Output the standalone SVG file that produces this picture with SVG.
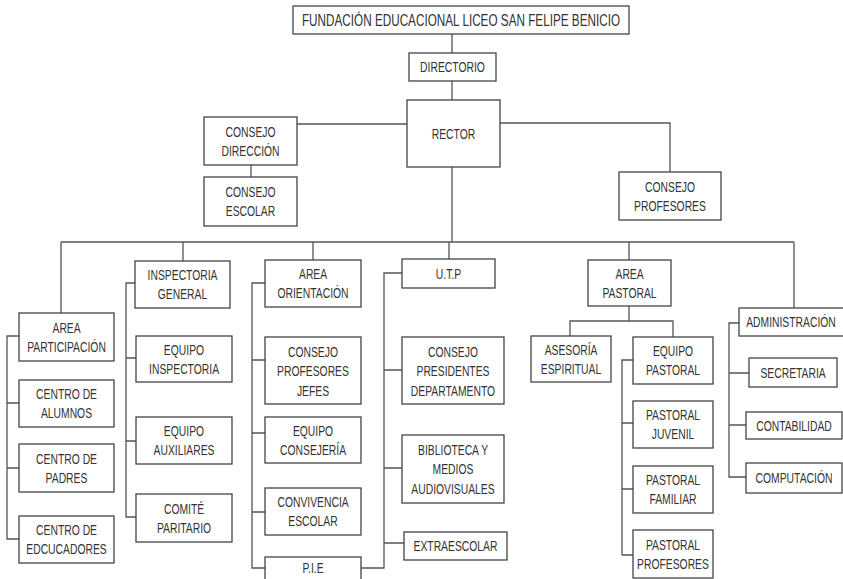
<svg xmlns="http://www.w3.org/2000/svg" width="843" height="579" viewBox="0 0 843 579">
<style>
rect{fill:#fff;stroke:#444;stroke-width:1.3}
text{font-family:"Liberation Sans",Arial,sans-serif;font-size:15px;fill:#333;text-anchor:middle;transform-box:fill-box;transform-origin:center;transform:scaleX(0.69)}
text.t{font-size:17px}
#connectors path{fill:none;stroke:#555;stroke-width:1.3}
</style>
<rect x="0" y="0" width="843" height="579" style="stroke:none;fill:#fff"/>
<g id="connectors">
<path d="M452,34V53M452,81V100"/>
<path d="M297,124H407M500,123H670V172"/>
<path d="M251,165V177"/>
<path d="M452,167V242M61,242H794"/>
<path d="M61,242V313M183,242V261M313,242V260M449,242V259M629,242V260M794,242V308"/>
<path d="M19,336H7V539H19M7,403H19M7,468H19"/>
<path d="M135,283H126V517H136M126,358H136M126,441H136"/>
<path d="M265,283H252V568H265M252,360H265M252,433H265M252,512H265"/>
<path d="M402,273H384V568H361M384,370H402M384,468H402M384,543H404"/>
<path d="M629,306V321M570,336V321H673V337"/>
<path d="M633,360H622V555H633M622,423H633M622,489H633"/>
<path d="M739,323H729V477H746M729,373H749M729,425H746"/>
</g>
<g id="fundacion"><rect x="293" y="6" width="336" height="28"/><text class="t" x="461" y="26">FUNDACIÓN EDUCACIONAL LICEO SAN FELIPE BENICIO</text></g>
<g id="directorio"><rect x="409" y="53" width="87" height="28"/><text x="452.5" y="72.5">DIRECTORIO</text></g>
<g id="rector"><rect x="407" y="100" width="93" height="67"/><text x="453.5" y="139">RECTOR</text></g>
<g id="consejo-direccion"><rect x="204" y="117" width="93" height="48"/><text x="250.5" y="137">CONSEJO</text><text x="250.5" y="156">DIRECCIÓN</text></g>
<g id="consejo-escolar"><rect x="204" y="177" width="93" height="49"/><text x="250.5" y="197.5">CONSEJO</text><text x="250.5" y="216.5">ESCOLAR</text></g>
<g id="consejo-profesores"><rect x="619" y="172" width="102" height="48"/><text x="670" y="192">CONSEJO</text><text x="670" y="211">PROFESORES</text></g>
<g id="area-participacion"><rect x="19" y="313" width="95" height="48"/><text x="66.5" y="333">AREA</text><text x="66.5" y="352">PARTICIPACIÓN</text></g>
<g id="centro-alumnos"><rect x="19" y="380" width="95" height="47"/><text x="66.5" y="399.5">CENTRO DE</text><text x="66.5" y="418.5">ALUMNOS</text></g>
<g id="centro-padres"><rect x="19" y="444" width="95" height="48"/><text x="66.5" y="464">CENTRO DE</text><text x="66.5" y="483">PADRES</text></g>
<g id="centro-educadores"><rect x="19" y="516" width="95" height="47"/><text x="66.5" y="535.5">CENTRO DE</text><text x="66.5" y="554.5">EDCUCADORES</text></g>
<g id="inspectoria-general"><rect x="135" y="261" width="95" height="47"/><text x="182.5" y="280.5">INSPECTORIA</text><text x="182.5" y="299.5">GENERAL</text></g>
<g id="equipo-inspectoria"><rect x="136" y="336" width="96" height="46"/><text x="184" y="355">EQUIPO</text><text x="184" y="374">INSPECTORIA</text></g>
<g id="equipo-auxiliares"><rect x="136" y="417" width="96" height="47"/><text x="184" y="436.5">EQUIPO</text><text x="184" y="455.5">AUXILIARES</text></g>
<g id="comite-paritario"><rect x="136" y="494" width="96" height="48"/><text x="184" y="514">COMITÉ</text><text x="184" y="533">PARITARIO</text></g>
<g id="area-orientacion"><rect x="265" y="260" width="96" height="47"/><text x="313" y="279.5">AREA</text><text x="313" y="298.5">ORIENTACIÓN</text></g>
<g id="consejo-profesores-jefes"><rect x="265" y="337" width="96" height="67"/><text x="313" y="357">CONSEJO</text><text x="313" y="376.5">PROFESORES</text><text x="313" y="396">JEFES</text></g>
<g id="equipo-consejeria"><rect x="265" y="417" width="96" height="46"/><text x="313" y="436">EQUIPO</text><text x="313" y="455">CONSEJERÍA</text></g>
<g id="convivencia-escolar"><rect x="265" y="488" width="96" height="47"/><text x="313" y="507.5">CONVIVENCIA</text><text x="313" y="526.5">ESCOLAR</text></g>
<g id="pie"><rect x="265" y="557" width="96" height="30"/><text x="313" y="573">P.I.E</text></g>
<g id="utp"><rect x="402" y="259" width="93" height="29"/><text x="448.5" y="279">U.T.P</text></g>
<g id="consejo-presidentes"><rect x="402" y="337" width="102" height="67"/><text x="453" y="357">CONSEJO</text><text x="453" y="376.5">PRESIDENTES</text><text x="453" y="396">DEPARTAMENTO</text></g>
<g id="biblioteca"><rect x="402" y="435" width="102" height="68"/><text x="453" y="455">BIBLIOTECA Y</text><text x="453" y="474.5">MEDIOS</text><text x="453" y="494">AUDIOVISUALES</text></g>
<g id="extraescolar"><rect x="404" y="532" width="103" height="28"/><text x="455.5" y="551.5">EXTRAESCOLAR</text></g>
<g id="area-pastoral"><rect x="588" y="260" width="83" height="46"/><text x="629.5" y="279">AREA</text><text x="629.5" y="298">PASTORAL</text></g>
<g id="asesoria-espiritual"><rect x="531" y="336" width="80" height="46"/><text x="571" y="355">ASESORÍA</text><text x="571" y="374">ESPIRITUAL</text></g>
<g id="equipo-pastoral"><rect x="633" y="337" width="80" height="47"/><text x="673" y="356.5">EQUIPO</text><text x="673" y="375.5">PASTORAL</text></g>
<g id="pastoral-juvenil"><rect x="633" y="401" width="80" height="47"/><text x="673" y="420.5">PASTORAL</text><text x="673" y="439.5">JUVENIL</text></g>
<g id="pastoral-familiar"><rect x="633" y="466" width="80" height="47"/><text x="673" y="485.5">PASTORAL</text><text x="673" y="504.5">FAMILIAR</text></g>
<g id="pastoral-profesores"><rect x="633" y="530" width="80" height="48"/><text x="673" y="550">PASTORAL</text><text x="673" y="569">PROFESORES</text></g>
<g id="administracion"><rect x="739" y="308" width="106" height="28"/><text x="791" y="327.5">ADMINISTRACIÓN</text></g>
<g id="secretaria"><rect x="749" y="358" width="88" height="29"/><text x="793" y="378">SECRETARIA</text></g>
<g id="contabilidad"><rect x="746" y="412" width="96" height="27"/><text x="794" y="431">CONTABILIDAD</text></g>
<g id="computacion"><rect x="746" y="463" width="96" height="30"/><text x="794" y="483.5">COMPUTACIÓN</text></g>
</svg>
